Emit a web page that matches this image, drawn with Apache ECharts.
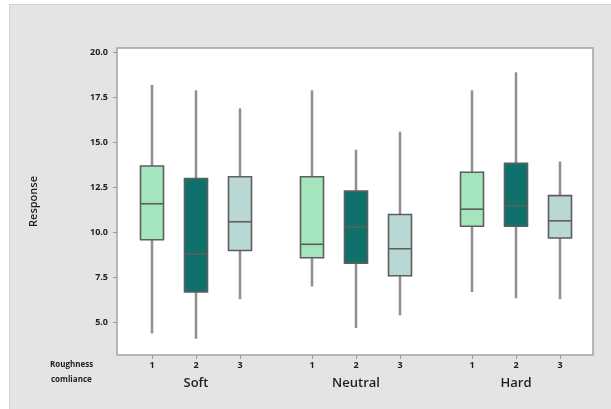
<!DOCTYPE html>
<html>
<head>
<meta charset="utf-8">
<script src="https://cdn.jsdelivr.net/npm/echarts@6/dist/echarts.min.js"></script>
<style>
  body { margin: 0; background: #fff; }
  #wrap { position: relative; width: 611px; height: 409px; overflow: hidden; }
  #panel { position: absolute; left: 9px; top: 4px; width: 620px; height: 420px; background: #e4e4e4; border: 1px solid #d2d2d2; }
  #chart { position: absolute; left: 0; top: 0; width: 611px; height: 409px; }
</style>
</head>
<body>
<div id="wrap">
  <div id="panel"></div>
  <div id="chart"></div>
</div>
<script>
const groups = ['Soft', 'Neutral', 'Hard']
const levels = ['1', '2', '3']
const yTicks = [5, 7.5, 10, 12.5, 15, 17.5, 20]
// [low whisker, Q1, median, Q3, high whisker] per roughness level
const softBoxes = [[4.4, 9.6, 11.6, 13.7, 18.2], [4.1, 6.7, 8.8, 13.0, 17.9], [6.3, 9.0, 10.6, 13.1, 16.9]]
const neutralBoxes = [[7.0, 8.6, 9.35, 13.1, 17.9], [4.7, 8.3, 10.3, 12.3, 14.6], [5.4, 7.6, 9.1, 11.0, 15.6]]
const hardBoxes = [[6.7, 10.35, 11.3, 13.35, 17.9], [6.35, 10.35, 11.5, 13.85, 18.9], [6.3, 9.7, 10.65, 12.05, 13.95]]
const levelColors = ['#a5e5bd', '#0f716c', '#bad8d3']

const yMin = 3.2
const yMax = 20.25
const groupData = [softBoxes, neutralBoxes, hardBoxes]
const groupLeft = [130, 290, 450]

const textColor = '#1e1e1e'
const font = 'Open Sans'

function renderBox (params, api) {
  const xi = api.value(0)
  const low = api.coord([xi, api.value(1)])
  const q1 = api.coord([xi, api.value(2)])
  const med = api.coord([xi, api.value(3)])
  const q3 = api.coord([xi, api.value(4)])
  const high = api.coord([xi, api.value(5)])
  const half = 11.5
  return {
    type: 'group',
    children: [
      {
        type: 'line',
        shape: { x1: low[0], y1: low[1], x2: high[0], y2: high[1] },
        style: { stroke: '#8f8f8f', lineWidth: 2.5 }
      },
      {
        type: 'rect',
        shape: { x: q3[0] - half, y: q3[1], width: half * 2, height: q1[1] - q3[1] },
        style: { fill: levelColors[xi], stroke: '#5e5e5e', lineWidth: 1.6 }
      },
      {
        type: 'line',
        shape: { x1: med[0] - half, y1: med[1], x2: med[0] + half, y2: med[1] },
        style: { stroke: '#5e5e5e', lineWidth: 1.6 }
      }
    ]
  }
}

const grid = [{ left: 117, top: 48, width: 476, height: 307, show: true, backgroundColor: '#fff', borderColor: '#a3a3a3', borderWidth: 1.5 }]
const xAxis = [{ type: 'value', gridIndex: 0, show: false, min: 0, max: 1 }]
const yAxis = [{
  type: 'value',
  gridIndex: 0,
  min: yMin,
  max: yMax,
  name: 'Response',
  nameLocation: 'middle',
  nameGap: 78,
  nameTextStyle: { fontSize: 11, color: textColor, fontFamily: font, fontWeight: 600 },
  axisLine: { show: false },
  splitLine: { show: false },
  axisTick: { show: true, length: 4, lineStyle: { color: '#999' }, customValues: yTicks },
  axisLabel: {
    customValues: yTicks,
    margin: 9,
    fontSize: 9,
    fontWeight: 'bold',
    color: textColor,
    fontFamily: font,
    formatter: v => v.toFixed(1)
  }
}]
const series = []

groups.forEach((g, i) => {
  grid.push({ left: groupLeft[i], top: 48, width: 132, height: 307 })
  xAxis.push({
    type: 'category',
    gridIndex: i + 1,
    data: levels,
    boundaryGap: true,
    name: g,
    nameLocation: 'middle',
    nameGap: 22,
    nameTextStyle: { fontSize: 13, color: textColor, fontFamily: font, fontWeight: 600 },
    axisLine: { show: false },
    axisTick: { show: true, alignWithLabel: true, length: 4, lineStyle: { color: '#999' } },
    axisLabel: { margin: 6, fontSize: 9, fontWeight: 'bold', color: textColor, fontFamily: font }
  })
  yAxis.push({ type: 'value', gridIndex: i + 1, min: yMin, max: yMax, show: false })
  series.push({
    type: 'custom',
    xAxisIndex: i + 1,
    yAxisIndex: i + 1,
    renderItem: renderBox,
    encode: { x: 0, y: [1, 2, 3, 4, 5] },
    data: groupData[i].map((b, j) => [j].concat(b))
  })
})

const option = {
  backgroundColor: 'transparent',
  animation: false,
  grid,
  xAxis,
  yAxis,
  series,
  graphic: [
    { type: 'text', left: 50, top: 361, style: { text: 'Roughness', fontSize: 8, fontWeight: 'bold', fill: textColor, fontFamily: font } },
    { type: 'text', left: 51, top: 376, style: { text: 'comliance', fontSize: 8, fontWeight: 'bold', fill: textColor, fontFamily: font } }
  ]
}

const chart = echarts.init(document.getElementById('chart'))
chart.setOption(option)
</script>
</body>
</html>
